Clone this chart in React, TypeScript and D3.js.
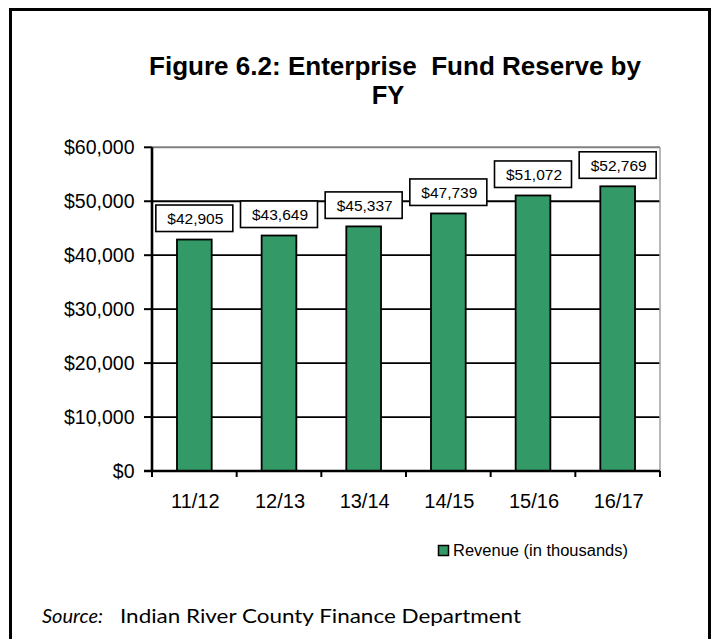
import React from "react";
import * as d3 from "d3";

const categories = ["11/12", "12/13", "13/14", "14/15", "15/16", "16/17"];
const revenue = [42905, 43649, 45337, 47739, 51072, 52769];
const yTicks = [0, 10000, 20000, 30000, 40000, 50000, 60000];
const titleLines = ["Figure 6.2: Enterprise  Fund Reserve by", "FY"];
const legendLabel = "Revenue (in thousands)";
const sourceLabel = "Source:";
const sourceText = "Indian River County Finance Department";

const W = 713;
const H = 639;
const FONT = "'Liberation Sans', Arial, sans-serif";
const SRC_FONT = "Lato, 'Open Sans', sans-serif";
const GREEN = "#339966";

export default function App() {
  const plot = { left: 152, right: 660, top: 147.3, bottom: 471 };
  const x = d3.scaleBand<string>().domain(categories).range([plot.left, plot.right]).padding(0);
  const y = d3.scaleLinear().domain([0, 60000]).range([plot.bottom, plot.top]);
  const fmt = d3.format("$,.0f");
  const barW = x.bandwidth() * 0.41;
  const boxW = 77;
  const boxH = 26.5;
  const edges = categories.map((c) => x(c) as number).concat([plot.right]);

  return (
    <svg
      width={W}
      height={H}
      viewBox={`0 0 ${W} ${H}`}
      style={{ position: "absolute", left: 0, top: 0, background: "#fff" }}
    >
      <rect x={0} y={0} width={W} height={H} fill="#fff" />
      {/* outer frame */}
      <rect x={10.5} y={9.5} width={699} height={H + 10} fill="none" stroke="#000" strokeWidth={3} />

      {/* title */}
      <text
        x={395}
        y={74.5}
        textAnchor="middle"
        fontFamily={FONT}
        fontWeight="bold"
        fontSize={25.5}
        fill="#000"
        style={{ whiteSpace: "pre" }}
        textLength={492}
        lengthAdjust="spacingAndGlyphs"
      >
        {titleLines[0]}
      </text>
      <text x={388} y={103.5} textAnchor="middle" fontFamily={FONT} fontWeight="bold" fontSize={25.5} fill="#000">
        {titleLines[1]}
      </text>

      {/* gridlines */}
      {yTicks.filter((t) => t > 0 && t < 60000).map((t) => (
        <line key={t} x1={plot.left} x2={plot.right} y1={y(t)} y2={y(t)} stroke="#000" strokeWidth={1.8} />
      ))}
      {/* plot top / right border (gray) */}
      <line x1={plot.left} x2={plot.right} y1={y(60000)} y2={y(60000)} stroke="#808080" strokeWidth={2} />
      <line x1={plot.right} x2={plot.right} y1={plot.top} y2={plot.bottom} stroke="#a0a0a0" strokeWidth={1.5} />

      {/* bars */}
      {revenue.map((v, i) => {
        const cx = (x(categories[i]) as number) + x.bandwidth() / 2;
        return (
          <rect
            key={categories[i]}
            x={cx - barW / 2}
            y={y(v)}
            width={barW}
            height={y(0) - y(v)}
            fill={GREEN}
            stroke="#000"
            strokeWidth={1.8}
          />
        );
      })}

      {/* data labels */}
      {revenue.map((v, i) => {
        const cx = (x(categories[i]) as number) + x.bandwidth() / 2;
        const bottom = y(v) - 8;
        return (
          <g key={"l" + i}>
            <rect x={cx - boxW / 2} y={bottom - boxH} width={boxW} height={boxH} fill="#fff" stroke="#000" strokeWidth={1.6} />
            <text x={cx + 1} y={bottom - 7.5} textAnchor="middle" fontFamily={FONT} fontSize={15.5} fill="#000">
              {fmt(v)}
            </text>
          </g>
        );
      })}

      {/* y axis */}
      <line x1={plot.left} x2={plot.left} y1={plot.top} y2={plot.bottom} stroke="#000" strokeWidth={2.6} />
      {yTicks.map((t) => (
        <g key={"yt" + t}>
          <line x1={plot.left - 8} x2={plot.left} y1={y(t)} y2={y(t)} stroke="#000" strokeWidth={2} />
          <text x={134.5} y={y(t) + 7} textAnchor="end" fontFamily={FONT} fontSize={19.5} fill="#000">
            {fmt(t)}
          </text>
        </g>
      ))}

      {/* x axis */}
      <line x1={plot.left - 8} x2={plot.right} y1={plot.bottom} y2={plot.bottom} stroke="#000" strokeWidth={2.6} />
      {edges.map((e, i) => (
        <line key={"xt" + i} x1={e} x2={e} y1={plot.bottom} y2={plot.bottom + 6} stroke="#000" strokeWidth={2} />
      ))}
      {categories.map((c) => (
        <text
          key={"xl" + c}
          x={(x(c) as number) + x.bandwidth() / 2 + 1}
          y={508}
          textAnchor="middle"
          fontFamily={FONT}
          fontSize={20}
          fill="#000"
        >
          {c}
        </text>
      ))}

      {/* legend */}
      <rect x={438.5} y={545.5} width={10} height={10} fill={GREEN} stroke="#000" strokeWidth={1.5} />
      <text x={453} y={556} fontFamily={FONT} fontSize={16} fill="#000" textLength={175} lengthAdjust="spacingAndGlyphs">
        {legendLabel}
      </text>

      {/* source */}
      <text x={42} y={623} fontFamily={SRC_FONT} fontSize={20} fill="#000" fontStyle="italic">
        {sourceLabel}
      </text>
      <text x={120} y={623} fontFamily={SRC_FONT} fontSize={20} fill="#000" textLength={401} lengthAdjust="spacingAndGlyphs">
        {sourceText}
      </text>
    </svg>
  );
}
